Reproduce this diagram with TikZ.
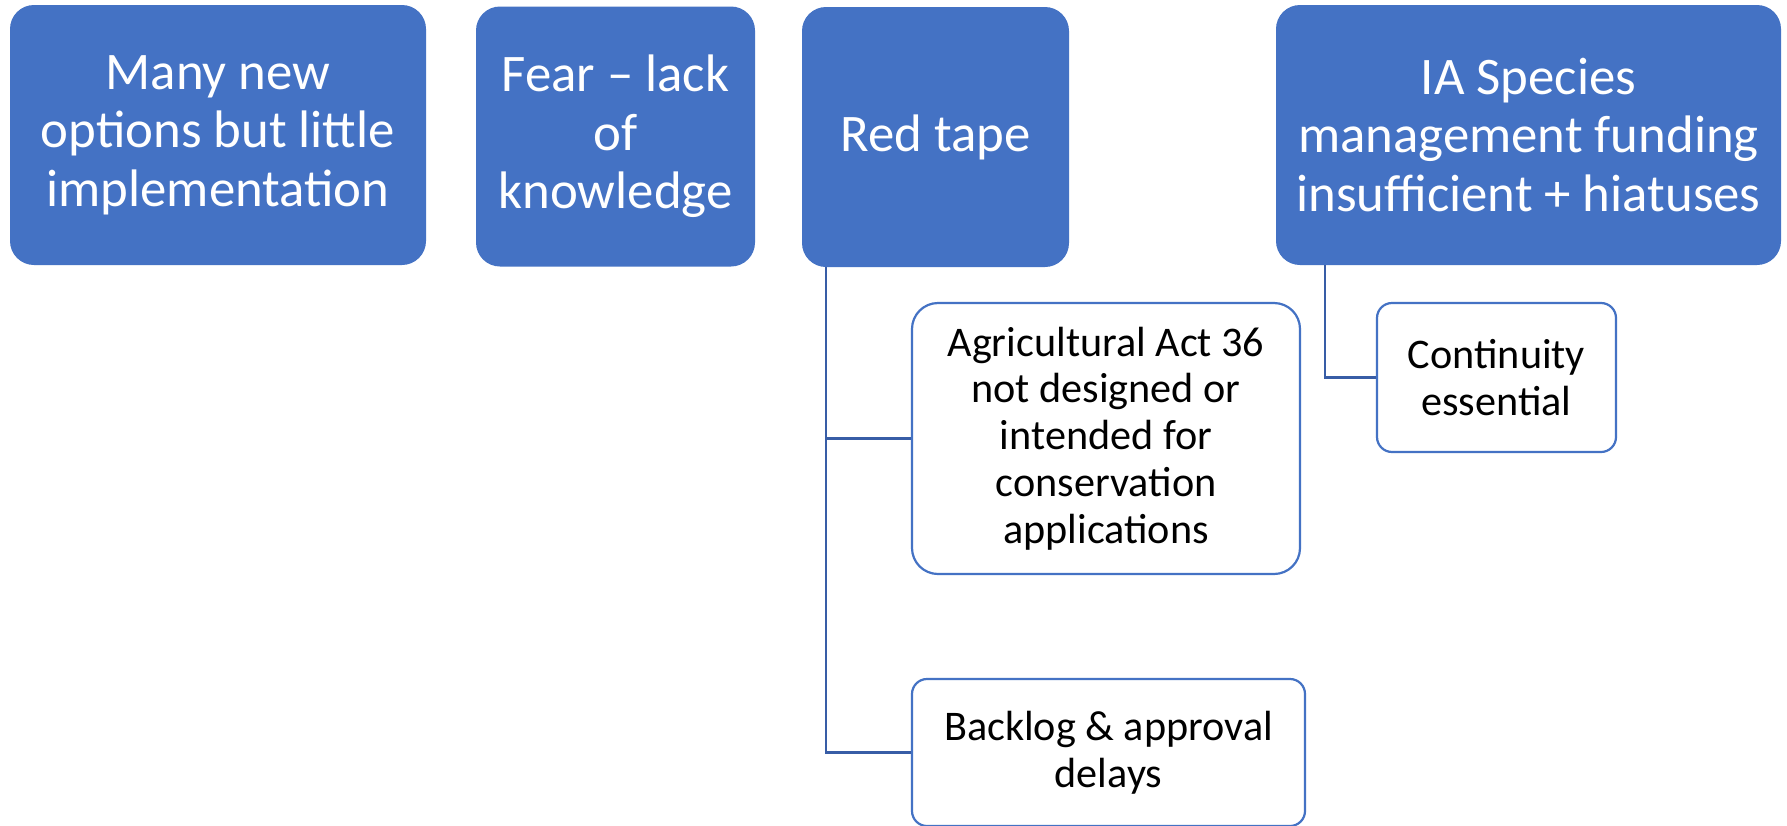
\documentclass[tikz,border=0pt]{standalone}
\usepackage{fontspec}
\setmainfont{Carlito}
\usepackage{xcolor}
\usepackage{tikz}
\usetikzlibrary{positioning, calc}
\definecolor{officeblue}{RGB}{68, 114, 196}
\definecolor{linkblue}{RGB}{56, 93, 166}
\tikzstyle{topic} = [
    rectangle, 
    rounded corners=12pt, 
    minimum height=130pt, 
    inner sep=0pt, 
    align=center, 
    fill=officeblue, 
    text=white, 
    font=\fontsize{26.4}{29.3}\selectfont
]
\tikzstyle{issue} = [
    rectangle, 
    rounded corners=7.5pt, 
    inner sep=0pt, 
    align=center, 
    draw=officeblue, 
    line width=1.1pt, 
    fill=white, 
    text=black, 
    font=\fontsize{21.1}{23.4}\selectfont
]
\tikzstyle{link} = [
    line width=1.1pt, 
    color=linkblue
]

\begin{document}
\begin{tikzpicture}[x=0.5pt, y=-0.5pt]
        \clip (0,0) rectangle (1787,825);
        \fill[white] (0,0) rectangle (1787,825);
        
        % Top row
        \node[topic, minimum width=208pt] (options) at (218, 135) {Many new\\options but little\\implementation};
        \node[topic, minimum width=139.5pt] (fear) at (615.5, 136.5) {Fear -- lack\\of\\knowledge};
        \node[topic, minimum width=133.5pt] (redtape) at (935.5, 137) {Red tape};
        \node[topic, minimum width=252.5pt] (funding) at (1528.5, 135) {IA Species\\management funding\\insufficient + hiatuses};
        
        % Second level
        \node[issue, rounded corners=13pt, minimum width=194pt, minimum height=135.5pt] (act) at (1106, 438.5) {Agricultural Act 36\\not designed or\\intended for\\conservation\\applications};
        \node[issue, minimum width=196.5pt, minimum height=73.5pt] (backlog) at (1108.5, 752.5) {Backlog \& approval\\delays};
        \node[issue, minimum width=119.5pt, minimum height=74.5pt] (continuity) at (1496.5, 377.5) {Continuity\\essential};
        
        % Connections
        \draw[link] ([xshift=12pt]redtape.south west) |- (act.west);
        \draw[link] ([xshift=12pt]redtape.south west) |- (backlog.west);
        \draw[link] ([xshift=24.5pt]funding.south west) |- (continuity.west);
    \end{tikzpicture}
\end{document}
